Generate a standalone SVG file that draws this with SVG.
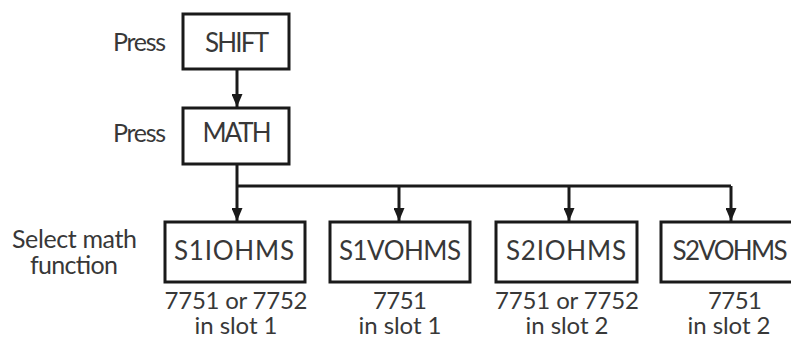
<svg xmlns="http://www.w3.org/2000/svg" width="791" height="338" viewBox="0 0 791 338">
  <style>
    .box { fill: #ffffff; stroke: #1a1a1a; stroke-width: 3; }
    .lbl { font-family: Lato, "Open Sans", "Liberation Sans", sans-serif; font-size: 25px; fill: #383838; }
    .key { font-family: Lato, "Open Sans", "Liberation Sans", sans-serif; font-size: 26px; fill: #383838; text-anchor: middle; }
    .note { font-family: Lato, "Open Sans", "Liberation Sans", sans-serif; font-size: 24px; fill: #383838; text-anchor: middle; }
    .wire { fill: none; stroke: #1a1a1a; stroke-width: 3; }
  </style>
  <defs>
    <marker id="down" viewBox="0 0 11 13" refX="5.5" refY="13" markerWidth="11" markerHeight="13" markerUnits="userSpaceOnUse" orient="0">
      <path d="M0,0 L11,0 L5.5,13 Z" fill="#1a1a1a"/>
    </marker>
  </defs>

  <rect width="791" height="338" fill="#ffffff"/>

  <!-- step labels -->
  <g id="step-labels">
    <text class="lbl" x="113" y="51" textLength="53">Press</text>
    <text class="lbl" x="113" y="142" textLength="53">Press</text>
    <text class="lbl" x="12" y="248" textLength="125">Select math</text>
    <text class="lbl" x="30" y="274" textLength="88">function</text>
  </g>

  <!-- connectors -->
  <g id="connectors">
    <line class="wire" x1="237" y1="69" x2="237" y2="107" marker-end="url(#down)"/>
    <line class="wire" x1="237" y1="164" x2="237" y2="221" marker-end="url(#down)"/>
    <polyline class="wire" points="237,186 731,186"/>
    <line class="wire" x1="399" y1="186" x2="399" y2="221" marker-end="url(#down)"/>
    <line class="wire" x1="569" y1="186" x2="569" y2="221" marker-end="url(#down)"/>
    <line class="wire" x1="731" y1="186" x2="731" y2="221" marker-end="url(#down)"/>
  </g>

  <g id="shift">
    <rect class="box" x="183" y="14" width="106" height="55"/>
    <text class="key" x="237" y="52" textLength="64">SHIFT</text>
  </g>

  <g id="math">
    <rect class="box" x="183" y="108" width="106" height="56"/>
    <text class="key" x="237" y="142" textLength="69">MATH</text>
  </g>

  <g id="s1iohms">
    <rect class="box" x="165" y="222" width="140" height="60"/>
    <text class="key" x="234" y="260" textLength="120">S1IOHMS</text>
    <text class="note" x="236" y="309" textLength="143">7751 or 7752</text>
    <text class="note" x="236" y="334" textLength="83">in slot 1</text>
  </g>

  <g id="s1vohms">
    <rect class="box" x="330" y="222" width="140" height="60"/>
    <text class="key" x="400" y="260" textLength="122">S1VOHMS</text>
    <text class="note" x="400" y="309" textLength="54">7751</text>
    <text class="note" x="400" y="334" textLength="83">in slot 1</text>
  </g>

  <g id="s2iohms">
    <rect class="box" x="496" y="222" width="141" height="60"/>
    <text class="key" x="566" y="260" textLength="120">S2IOHMS</text>
    <text class="note" x="567" y="309" textLength="144">7751 or 7752</text>
    <text class="note" x="567" y="334" textLength="83">in slot 2</text>
  </g>

  <g id="s2vohms">
    <rect class="box" x="661" y="222" width="134" height="60"/>
    <text class="key" x="730" y="260" textLength="115">S2VOHMS</text>
    <text class="note" x="735" y="309" textLength="54">7751</text>
    <text class="note" x="729" y="334" textLength="83">in slot 2</text>
  </g>
</svg>
